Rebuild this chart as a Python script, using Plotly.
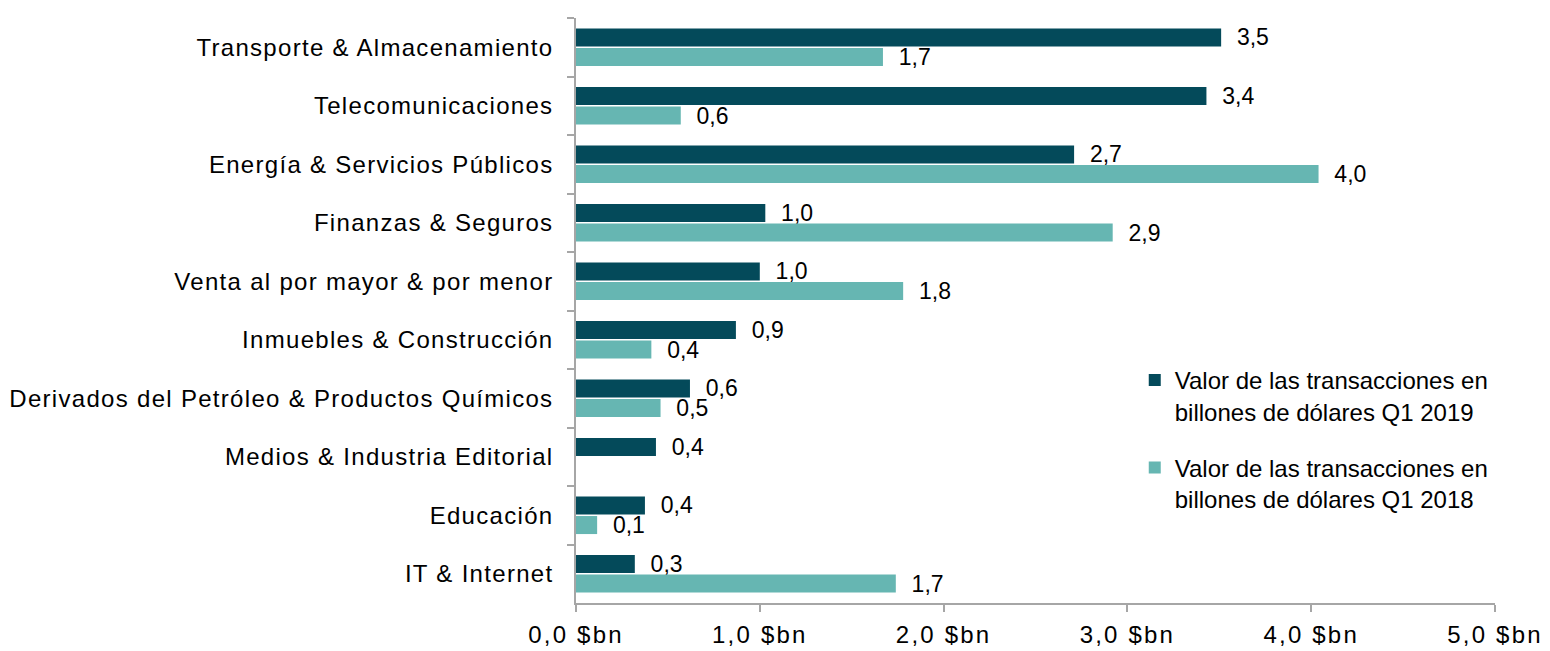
import plotly.graph_objects as go

categories = [
    "Transporte & Almacenamiento",
    "Telecomunicaciones",
    "Energía & Servicios Públicos",
    "Finanzas & Seguros",
    "Venta al por mayor & por menor",
    "Inmuebles & Construcción",
    "Derivados del Petróleo & Productos Químicos",
    "Medios & Industria Editorial",
    "Educación",
    "IT & Internet",
]
values_2019 = [3.51, 3.43, 2.71, 1.03, 1.00, 0.87, 0.62, 0.435, 0.375, 0.32]
values_2018 = [1.67, 0.57, 4.04, 2.92, 1.78, 0.41, 0.46, None, 0.115, 1.74]
name_2019 = "Valor de las transacciones en<br>billones de dólares Q1 2019"
name_2018 = "Valor de las transacciones en<br>billones de dólares Q1 2018"
x_ticks = [0, 1, 2, 3, 4, 5]
x_tick_labels = ["0,0 $bn", "1,0 $bn", "2,0 $bn", "3,0 $bn", "4,0 $bn", "5,0 $bn"]

FONT = "Liberation Sans, Arial, sans-serif"
DARK = "#044A5A"
LIGHT = "#66B6B2"
AXIS = "#A6A6A6"

fig = go.Figure()
fig.add_trace(go.Bar(
    y=categories, x=values_2019, orientation="h", name=name_2019,
    marker=dict(color=DARK, line=dict(width=0)),
    texttemplate="\u00a0\u00a0%{x:.1f}", textposition="outside",
    constraintext="none", cliponaxis=False,
    textfont=dict(family=FONT, size=23, color="#000000"),
    legendgroup="a",
))
fig.add_trace(go.Bar(
    y=categories, x=values_2018, orientation="h", name=name_2018,
    marker=dict(color=LIGHT, line=dict(width=0)),
    texttemplate="\u00a0\u00a0%{x:.1f}", textposition="outside",
    constraintext="none", cliponaxis=False,
    textfont=dict(family=FONT, size=23, color="#000000"),
    legendgroup="b",
))

fig.update_layout(
    width=1550, height=651,
    margin=dict(l=576, r=55, t=18, b=48),
    paper_bgcolor="white", plot_bgcolor="white",
    separators=",.",
    barmode="group", bargap=0.33, bargroupgap=0.08,
    font=dict(family=FONT, size=24, color="#000000"),
    showlegend=True,
    legend=dict(
        x=0.608, y=0.419, xanchor="left", yanchor="top",
        traceorder="grouped", tracegroupgap=22, valign="top",
        font=dict(family=FONT, size=24, color="#000000"),
        bgcolor="rgba(0,0,0,0)",
    ),
    xaxis=dict(
        range=[0, 5], tickmode="array", tickvals=x_ticks, ticktext=x_tick_labels,
        showgrid=False, zeroline=False,
        showline=True, linecolor=AXIS, linewidth=1.5,
        ticks="outside", ticklen=7, tickcolor=AXIS, tickwidth=1.5,
        tickfont=dict(family=FONT, size=24, color="#000000"),
        ticklabelstandoff=2,
        automargin=False,
        fixedrange=True,
    ),
    yaxis=dict(
        categoryorder="array", categoryarray=categories, autorange="reversed",
        showgrid=False, zeroline=False,
        showline=True, linecolor=AXIS, linewidth=1.5,
        ticks="outside", tickson="boundaries", ticklen=7, tickcolor=AXIS, tickwidth=1.5,
        tickfont=dict(family=FONT, size=24, color="#000000"),
        ticklabelstandoff=16,
        automargin=False,
        fixedrange=True,
    ),
)

post = """
var s = document.createElement('style');
s.textContent = 'html,body{margin:0;padding:0;} .ytick text{letter-spacing:1.3px;} .xtick text{letter-spacing:2.2px;}';
document.head.appendChild(s);
"""
fig.write_html("out.html", post_script=post, config={"displayModeBar": False})
